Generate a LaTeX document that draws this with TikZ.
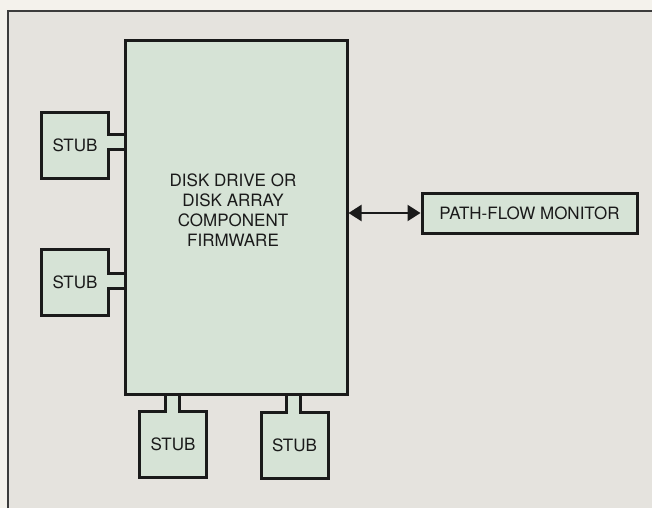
\documentclass[tikz,border=0pt]{standalone}
\usepackage{fontspec}
\setmainfont{TeX Gyre Heros}
\usepackage{xcolor}
\usetikzlibrary{arrows.meta,positioning,calc}
\definecolor{paper}{HTML}{F4F2EC}
\definecolor{panel}{HTML}{E5E3DE}
\definecolor{boxfill}{HTML}{D6E3D6}
\definecolor{ink}{HTML}{1A1A1A}
\begin{document}
\begin{tikzpicture}[x=1pt,y=-1pt, every node/.style={font=\fontsize{17}{20}\selectfont,text=ink}, blk/.style={draw=ink,fill=boxfill,line width=3pt,outer sep=0pt,inner sep=0pt,align=center}, stub/.style={blk,minimum width=67pt,minimum height=66pt}, neck/.style={draw=ink,line width=3pt}]
\useasboundingbox (0,0) rectangle (652,508);
\fill[paper] (0,0) rectangle (652,508);
\fill[panel] (8,11) rectangle (652,508);
\draw[ink!85,line width=2pt] (8,508)--(8,11)--(652,11);
\node[blk,minimum width=222pt,minimum height=353pt] (main) at (236,217.5) {};
\node (fw) at (233,210) [align=center] {DISK DRIVE OR\\DISK ARRAY\\COMPONENT\\FIRMWARE};
\node[stub] (sa) at (75,145) {STUB};
\node[stub] (sb) at (75,282.5) {STUB};
\node[stub] (sc) at (173,444.5) {STUB};
\node[stub] (sd) at (294.5,445) {STUB};
\node[blk,minimum width=215pt,minimum height=40pt] (mon) at (529.5,213) {PATH-FLOW MONITOR};
% necks
\foreach \s/\d in {sa/-3.5,sb/-2} {
  \fill[boxfill] ($(\s.east)+(-1.5,\d-7.5)$) rectangle ($(main.west|-\s.east)+(-1.5,\d+7.5)$);
  \draw[neck] ($(\s.east)+(-1.5,\d-7.5)$) -- ($(main.west|-\s.east)+(-1.5,\d-7.5)$);
  \draw[neck] ($(\s.east)+(-1.5,\d+7.5)$) -- ($(main.west|-\s.east)+(-1.5,\d+7.5)$);
}
\foreach \s/\d in {sc/-1,sd/-1} {
  \fill[boxfill] ($(\s.north)+(\d-7,1.5)$) rectangle ($(main.south-|\s.north)+(\d+7,1.5)$);
  \draw[neck] ($(\s.north)+(\d-7,1.5)$) -- ($(main.south-|\s.north)+(\d-7,1.5)$);
  \draw[neck] ($(\s.north)+(\d+7,1.5)$) -- ($(main.south-|\s.north)+(\d+7,1.5)$);
}
\draw[draw=ink,line width=2.2pt,{Triangle[length=13pt,width=16pt]}-{Triangle[length=13pt,width=16pt]}] ($(main.east|-mon.west)+(1.5,0)$) -- ($(mon.west)+(-1.5,0)$);
\end{tikzpicture}
\end{document}
